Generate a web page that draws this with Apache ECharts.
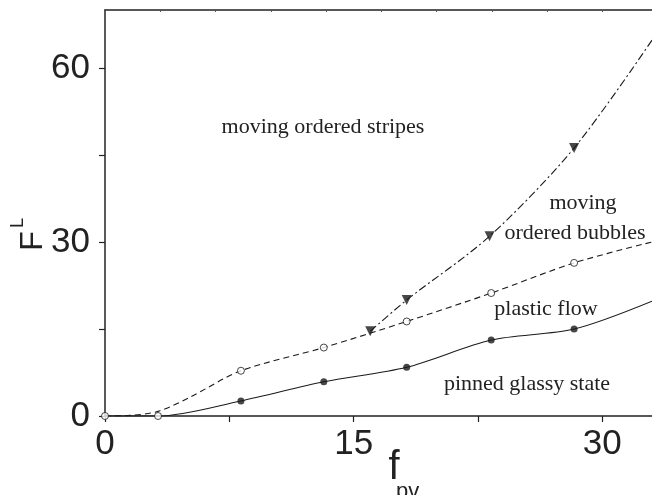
<!DOCTYPE html>
<html><head><meta charset="utf-8">
<script src="https://cdn.jsdelivr.net/npm/echarts@6/dist/echarts.min.js"></script>
<style>html,body{margin:0;padding:0;background:#fff}#c{width:652px;height:495px}</style>
</head><body><div id="c"></div>
<script>
// tick labels / tick positions
const xLabels = [0, 15, 30];
const xTickVals = [0, 7.5, 15, 22.5, 30];
const yLabels = [0, 30, 60];
const yTickVals = [0, 15, 30, 45, 60];

// marker data
const pinnedX = [8.2, 13.2, 18.2, 23.3, 28.3];
const pinnedY = [2.6, 5.9, 8.4, 13.1, 15.0];
const plasticX = [0, 3.2, 8.2, 13.2, 18.2, 23.3, 28.3];
const plasticY = [0, 0, 7.8, 11.8, 16.3, 21.2, 26.4];
const stripesX = [16.0, 18.2, 23.2, 28.3];
const stripesY = [14.6, 20.0, 31.0, 46.2];

// boundary curves
const solidCurveX = [0, 3.2, 8.2, 13.2, 18.2, 23.3, 28.3, 33];
const solidCurveY = [0, 0, 2.6, 5.9, 8.4, 13.1, 15.0, 19.8];
const dashCurveX = [0, 1.5, 3.2, 5.1, 8.2, 13.2, 18.2, 23.3, 28.3, 33];
const dashCurveY = [0, 0.1, 0.8, 3.2, 7.8, 11.8, 16.3, 21.2, 26.4, 30.0];
const dashDotCurveX = [16.0, 18.2, 23.2, 28.3, 33];
const dashDotCurveY = [14.6, 20.0, 31.0, 46.2, 64.8];

const zip = (a, b) => a.map((v, i) => [v, b[i]]);
const INK = '#1a1a1a';
const serif = 'Liberation Serif, serif';
const sans = 'Liberation Sans, Arial, sans-serif';

const chart = echarts.init(document.getElementById('c'), null, {renderer: 'canvas'});
chart.setOption({
  animation: false,
  backgroundColor: '#fff',
  grid: {left: 105, right: 0, top: 10, bottom: 79},
  xAxis: [{
    type: 'value', min: 0, max: 33, position: 'bottom',
    axisLine: {lineStyle: {color: '#222', width: 1.5}},
    axisTick: {length: 6, customValues: xTickVals, lineStyle: {color: '#222', width: 1.2}},
    axisLabel: {customValues: xLabels, fontSize: 35, fontFamily: sans, color: '#222', margin: 11},
    splitLine: {show: false}
  }, {
    type: 'value', min: 0, max: 33, interval: 10 / 3, position: 'top',
    axisLine: {show: true, lineStyle: {color: '#222', width: 1.5}},
    axisTick: {show: true, inside: true, length: 2, lineStyle: {color: '#555', width: 1}},
    axisLabel: {show: false},
    splitLine: {show: false}
  }],
  yAxis: {
    type: 'value', min: 0, max: 70,
    axisLine: {show: true, lineStyle: {color: '#222', width: 1.5}},
    axisTick: {show: true, length: 6, customValues: yTickVals, lineStyle: {color: '#222', width: 1.2}},
    axisLabel: {customValues: yLabels, fontSize: 35, fontFamily: sans, color: '#222', margin: 15},
    splitLine: {show: false}
  },
  series: [
    {type: 'line', data: zip(solidCurveX, solidCurveY), smooth: 0.3, symbol: 'none',
     lineStyle: {color: INK, width: 1.1}, z: 3},
    {type: 'line', data: zip(dashCurveX, dashCurveY), smooth: 0.3, symbol: 'none',
     lineStyle: {color: INK, width: 1.1, type: [6, 4]}, z: 3},
    {type: 'line', data: zip(dashDotCurveX, dashDotCurveY), smooth: 0.3, symbol: 'none',
     lineStyle: {color: INK, width: 1.1, type: [8, 3, 2, 3]}, z: 3},
    {type: 'scatter', data: zip(pinnedX, pinnedY), symbol: 'circle', symbolSize: 7,
     itemStyle: {color: INK}, clip: false, z: 5},
    {type: 'scatter', data: zip(plasticX, plasticY), symbol: 'circle', symbolSize: 7,
     itemStyle: {color: '#fff', borderColor: INK, borderWidth: 1}, clip: false, z: 5},
    {type: 'scatter', data: zip(stripesX, stripesY), symbol: 'triangle', symbolRotate: 180, symbolSize: 10,
     itemStyle: {color: INK}, clip: false, z: 5}
  ],
  graphic: [
    {type: 'text', x: 323, y: 127, style: {text: 'moving ordered stripes', font: '22px ' + serif, fill: '#222', align: 'center', verticalAlign: 'middle'}},
    {type: 'text', x: 583, y: 203, style: {text: 'moving', font: '22px ' + serif, fill: '#222', align: 'center', verticalAlign: 'middle'}},
    {type: 'text', x: 575, y: 233, style: {text: 'ordered bubbles', font: '22px ' + serif, fill: '#222', align: 'center', verticalAlign: 'middle'}},
    {type: 'text', x: 546, y: 309, style: {text: 'plastic flow', font: '22px ' + serif, fill: '#222', align: 'center', verticalAlign: 'middle'}},
    {type: 'text', x: 527, y: 384, style: {text: 'pinned glassy state', font: '22px ' + serif, fill: '#222', align: 'center', verticalAlign: 'middle'}},
    {type: 'text', x: 33.5, y: 241, rotation: Math.PI / 2, style: {text: 'F', font: '32px ' + sans, fill: '#222', align: 'center', verticalAlign: 'middle'}},
    {type: 'text', x: 18.5, y: 223, rotation: Math.PI / 2, style: {text: 'L', font: '18px ' + sans, fill: '#222', align: 'center', verticalAlign: 'middle'}},
    {type: 'text', x: 394, y: 468, style: {text: 'f', font: '40px ' + sans, fill: '#222', align: 'center', verticalAlign: 'middle'}},
    {type: 'text', x: 396, y: 492, style: {text: 'pv', font: '22px ' + sans, fill: '#222', align: 'left', verticalAlign: 'middle'}}
  ]
});
</script>
</body></html>
